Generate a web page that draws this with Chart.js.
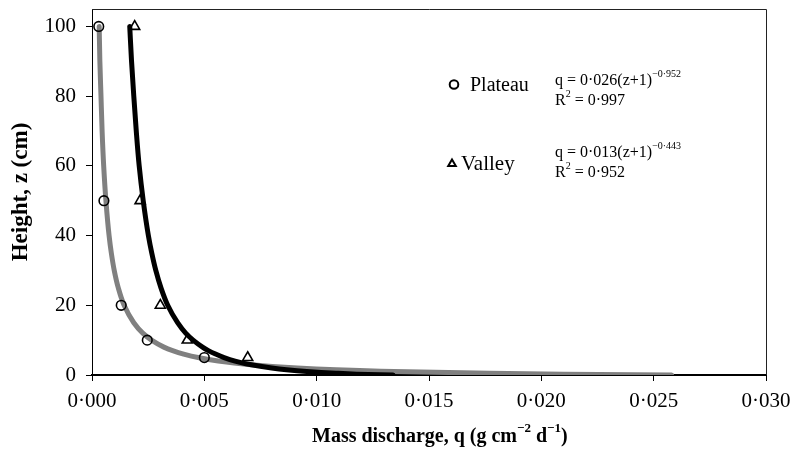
<!DOCTYPE html>
<html>
<head>
<meta charset="utf-8">
<script src="https://cdn.jsdelivr.net/npm/chart.js@4"></script>
<style>
  html, body { margin: 0; padding: 0; background: #fff; }
  #wrap { width: 792px; height: 451px; }
</style>
</head>
<body>
<div id="wrap"><canvas id="chart" width="792" height="451"></canvas></div>
<script>
// Measured points (height z in cm, mass discharge q)
const plateauZ = [100, 50, 20, 10, 5];
const plateauQ = [0.0003, 0.00053, 0.0013, 0.00246, 0.0050];
const valleyZ = [100, 50, 20, 10, 5];
const valleyQ = [0.0019, 0.00214, 0.00304, 0.00424, 0.00693];

// Fitted curves
const fitZ = [0, 0.25, 0.5, 1, 1.5, 2, 3, 4, 5, 6, 7, 8, 10, 12, 15, 20, 25, 30, 35, 40, 50, 60, 70, 80, 90, 100];
const plateauFitQ = [0.0258, 0.0210, 0.0177, 0.01344, 0.01087, 0.00914, 0.00695, 0.00562, 0.00472, 0.00408,
  0.00359, 0.00320, 0.00265, 0.00226, 0.00186, 0.00143, 0.00117, 0.00099, 0.00086, 0.00076, 0.00062,
  0.00052, 0.00045, 0.00040, 0.00035, 0.00032];
const valleyFitQ = [0.0134, 0.01178, 0.01086, 0.00956, 0.00866, 0.0080, 0.00703, 0.00637, 0.00588, 0.00550,
  0.00518, 0.00492, 0.0045, 0.00417, 0.00381, 0.00337, 0.00307, 0.00284, 0.00266, 0.00251, 0.00228,
  0.0021, 0.00197, 0.00186, 0.00176, 0.00168];

const yTicks = [0, 20, 40, 60, 80, 100];

const SERIF = '"Liberation Serif", "Times New Roman", serif';

function toPoints(qs, zs) {
    return qs.map((q, i) => ({ x: q, y: zs[i] }));
}

// Draw text with superscript parts, left aligned on a baseline
function drawRich(ctx, parts, x, y, size, bold) {
    let cx = x;
    parts.forEach(p => {
        const fs = p.sup ? Math.round(size * 0.65) : size;
        ctx.font = (bold ? 'bold ' : '') + fs + 'px ' + SERIF;
        ctx.fillText(p.t, cx, p.sup ? y - size * 0.5 : y);
        cx += ctx.measureText(p.t).width;
    });
}

const annotations = {
    id: 'annotations',
    afterDraw(chart) {
        const ctx = chart.ctx;
        const area = chart.chartArea;
        ctx.save();
        // top and right frame
        ctx.strokeStyle = '#222';
        ctx.lineWidth = 1;
        ctx.beginPath();
        ctx.moveTo(area.left, area.top + 0.5);
        ctx.lineTo(area.right + 0.5, area.top + 0.5);
        ctx.lineTo(area.right + 0.5, area.bottom);
        ctx.stroke();

        ctx.fillStyle = '#000';
        ctx.textBaseline = 'alphabetic';
        ctx.textAlign = 'left';

        // legend symbols
        ctx.lineWidth = 2;
        ctx.strokeStyle = '#000';
        ctx.beginPath();
        ctx.arc(454, 84.5, 4.3, 0, Math.PI * 2);
        ctx.stroke();
        ctx.beginPath();
        ctx.moveTo(452, 159.5);
        ctx.lineTo(455.8, 166);
        ctx.lineTo(448.2, 166);
        ctx.closePath();
        ctx.stroke();

        ctx.font = '20px ' + SERIF;
        ctx.fillText('Plateau', 470, 91);
        ctx.font = '21px ' + SERIF;
        ctx.fillText('Valley', 461, 170);

        drawRich(ctx, [{ t: 'q = 0\u00B7026(z+1)' }, { t: '\u22120\u00B7952', sup: true }], 555, 85, 16);
        drawRich(ctx, [{ t: 'R' }, { t: '2', sup: true }, { t: ' = 0\u00B7997' }], 555, 105, 16);
        drawRich(ctx, [{ t: 'q = 0\u00B7013(z+1)' }, { t: '\u22120\u00B7443', sup: true }], 555, 157, 16);
        drawRich(ctx, [{ t: 'R' }, { t: '2', sup: true }, { t: ' = 0\u00B7952' }], 555, 177, 16);

        // x axis title
        drawRich(ctx, [
            { t: 'Mass discharge, q (g cm' }, { t: '\u22122', sup: true },
            { t: ' d' }, { t: '\u22121', sup: true }, { t: ')' }
        ], 312, 442, 20, true);
        ctx.restore();
    }
};

function main() {
    const canvas = document.getElementById('chart');
    new Chart(canvas, {
        type: 'scatter',
        data: {
            datasets: [
                {
                    label: 'Plateau',
                    data: toPoints(plateauQ, plateauZ),
                    pointStyle: 'circle',
                    pointRadius: 4.8,
                    pointBorderWidth: 1.6,
                    borderColor: '#000',
                    backgroundColor: 'rgba(0,0,0,0)',
                    order: 0
                },
                {
                    label: 'Valley',
                    data: toPoints(valleyQ, valleyZ),
                    pointStyle: 'triangle',
                    pointRadius: 5.8,
                    pointBorderWidth: 1.6,
                    borderColor: '#000',
                    backgroundColor: 'rgba(0,0,0,0)',
                    order: 0
                },
                {
                    label: 'Valley fit',
                    data: toPoints(valleyFitQ, fitZ),
                    showLine: true,
                    indexAxis: 'y',
                    cubicInterpolationMode: 'monotone',
                    pointRadius: 0,
                    borderColor: '#000',
                    borderWidth: 5,
                    borderCapStyle: 'round',
                    borderJoinStyle: 'round',
                    order: 1
                },
                {
                    label: 'Plateau fit',
                    data: toPoints(plateauFitQ, fitZ),
                    showLine: true,
                    indexAxis: 'y',
                    cubicInterpolationMode: 'monotone',
                    pointRadius: 0,
                    borderColor: '#808080',
                    borderWidth: 5,
                    borderCapStyle: 'round',
                    borderJoinStyle: 'round',
                    order: 2
                }
            ]
        },
        options: {
            responsive: false,
            devicePixelRatio: 1,
            animation: false,
            layout: { padding: { left: 0, right: 26, top: 9, bottom: 0 } },
            plugins: {
                legend: { display: false },
                tooltip: { enabled: false }
            },
            scales: {
                x: {
                    type: 'linear',
                    min: 0,
                    max: 0.030,
                    afterFit: scale => {
                        scale.height = 76;
                        scale.paddingLeft = 0;
                        scale.paddingRight = 0;
                    },
                    grid: { drawOnChartArea: false, drawTicks: true, tickLength: 6, color: '#000' },
                    border: { color: '#000', width: 2 },
                    ticks: {
                        stepSize: 0.005,
                        padding: 8,
                        color: '#000',
                        maxRotation: 0,
                        font: { family: SERIF, size: 21 },
                        callback: value => value.toFixed(3).replace('.', '\u00B7')
                    },
                    title: { display: false }
                },
                y: {
                    type: 'linear',
                    min: 0,
                    max: 105,
                    afterFit: scale => {
                        scale.width = 92;
                        scale.paddingTop = 0;
                        scale.paddingBottom = 0;
                    },
                    afterBuildTicks: scale => { scale.ticks = yTicks.map(v => ({ value: v })); },
                    grid: { drawOnChartArea: false, drawTicks: true, tickLength: 6, color: '#000' },
                    border: { color: '#000', width: 1 },
                    ticks: {
                        padding: 10,
                        color: '#000',
                        font: { family: SERIF, size: 21 }
                    },
                    title: {
                        display: true,
                        text: 'Height, z (cm)',
                        color: '#000',
                        font: { family: SERIF, size: 23, weight: 'bold' },
                        padding: { top: 7, bottom: 0 }
                    }
                }
            }
        },
        plugins: [annotations]
    });
}

window.onload = main;
</script>
</body>
</html>
